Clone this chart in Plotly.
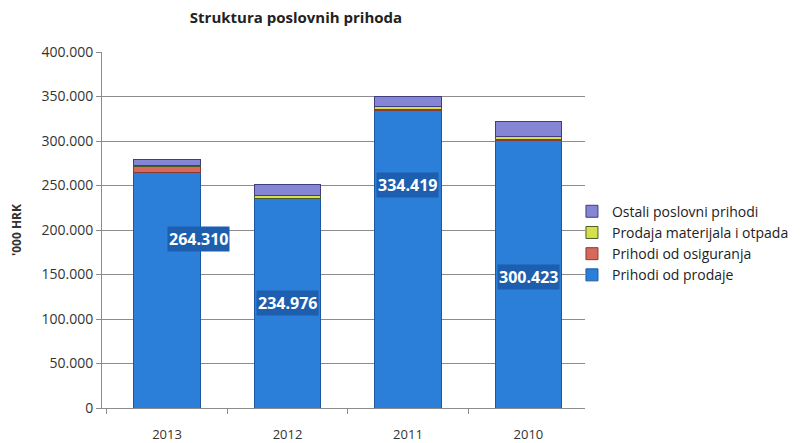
import plotly.graph_objects as go

# Data ('000 HRK)
years = ['2013', '2012', '2011', '2010']
prihodi_od_prodaje = [264310, 234976, 334419, 300423]
prihodi_od_osiguranja = [6500, 500, 500, 1000]
prodaja_materijala = [2000, 3000, 4000, 4000]
ostali_prihodi = [6500, 13000, 11000, 17000]

y_ticks = [0, 50000, 100000, 150000, 200000, 250000, 300000, 350000, 400000]
y_tick_text = ['0', '50.000', '100.000', '150.000', '200.000', '250.000',
               '300.000', '350.000', '400.000']

# where the value boxes sit inside the blue part (fraction of height), and a nudge
label_frac = [0.72, 0.50, 0.75, 0.49]
label_dx = [31, 0, 0, 0]

series = [
    ('Prihodi od prodaje', prihodi_od_prodaje, '#2b7fd8', '#1b5aa0'),
    ('Prihodi od osiguranja', prihodi_od_osiguranja, '#d4695c', '#8a3a33'),
    ('Prodaja materijala i otpada', prodaja_materijala, '#d6e04a', '#4a5a2a'),
    ('Ostali poslovni prihodi', ostali_prihodi, '#8585d6', '#3e3e80'),
]

fig = go.Figure()
for name, vals, col, edge in series:
    fig.add_trace(go.Bar(
        x=years, y=vals, name=name, legendgroup=name,
        marker=dict(color=col, line=dict(color=edge, width=1)),
    ))

# value labels in dark blue boxes (x given as category index, since
# numeric-looking strings are read as positions by annotations)
for i, (v, f, dx) in enumerate(zip(prihodi_od_prodaje, label_frac, label_dx)):
    fig.add_annotation(
        x=i, y=v * f, xshift=dx,
        text='<b>' + f'{v:,}'.replace(',', '.') + '</b>',
        showarrow=False,
        font=dict(color='white', size=16, family='Open Sans'),
        bgcolor='#1d5fae', borderpad=1,
    )

# page has an 8px body margin, so the figure is 8px smaller than the window
fig.update_layout(
    barmode='stack', bargap=0.45,
    width=800, height=435,
    paper_bgcolor='white', plot_bgcolor='white',
    font=dict(family='Open Sans', size=13, color='#333333'),
    margin=dict(l=94, r=223, t=44, b=35),
    title=dict(text='<b>Struktura poslovnih prihoda</b>', x=288 / 800, xanchor='center',
               y=1 - 10 / 435, yanchor='middle',
               font=dict(size=15, color='#222222', family='Open Sans')),
    legend=dict(traceorder='reversed', x=0.973, xanchor='left', y=0.463, yanchor='middle',
                font=dict(size=14, color='#222222'), tracegroupgap=6,
                bgcolor='rgba(0,0,0,0)'),
)
fig.update_yaxes(
    range=[0, 400000], tickvals=y_ticks, ticktext=y_tick_text,
    showgrid=True, gridcolor='#8c8c8c', gridwidth=1,
    showline=True, linecolor='#8c8c8c', ticks='outside', ticklen=5, tickcolor='#8c8c8c',
    title=dict(text="<b>'000 HRK</b>", font=dict(size=12, color='#333333'), standoff=24),
    zeroline=False, tickfont=dict(size=14), automargin=False,
)
fig.update_xaxes(
    type='category', range=[-0.54, 3.47],
    showline=True, linecolor='#8c8c8c', ticks='outside', ticklen=5, tickcolor='#8c8c8c',
    tickson='boundaries', ticklabelstandoff=14,
    tickfont=dict(size=13, color='#333333'), automargin=False,
)

fig.write_html('out.html')
